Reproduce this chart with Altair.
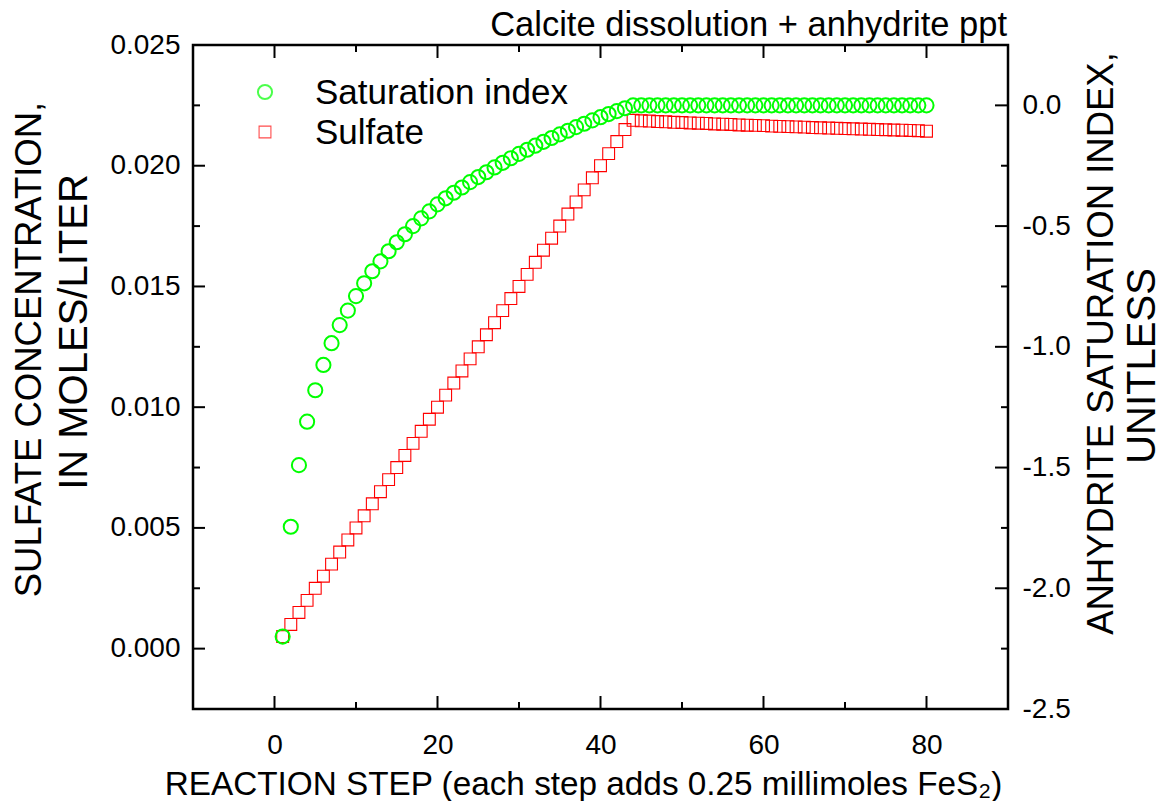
import altair as alt
import pandas as pd

steps = list(range(1, 81))

sulfate = [
    0.0005, 0.0010, 0.0015, 0.0020, 0.0025, 0.0030, 0.0035, 0.0040, 0.0045, 0.0050,
    0.0055, 0.0060, 0.0065, 0.0070, 0.0075, 0.0080, 0.0085, 0.0090, 0.0095, 0.0100,
    0.0105, 0.0110, 0.0115, 0.0120, 0.0125, 0.0130, 0.0135, 0.0140, 0.0145, 0.0150,
    0.0155, 0.0160, 0.0165, 0.0170, 0.0175, 0.0180, 0.0185, 0.0190, 0.0195, 0.0200,
    0.0205, 0.0210, 0.0215, 0.02188, 0.02186, 0.02185, 0.02183, 0.02182, 0.02180, 0.02179,
    0.02177, 0.02176, 0.02175, 0.02173, 0.02172, 0.02171, 0.02169, 0.02168, 0.02167, 0.02166,
    0.02164, 0.02163, 0.02162, 0.02161, 0.02160, 0.02158, 0.02157, 0.02156, 0.02155, 0.02154,
    0.02153, 0.02152, 0.02151, 0.02150, 0.02149, 0.02148, 0.02147, 0.02146, 0.02145, 0.02143,
]

sat_index = [
    -2.20, -1.745, -1.49, -1.31, -1.18, -1.075, -0.985, -0.91, -0.85, -0.79,
    -0.737, -0.687, -0.646, -0.604, -0.567, -0.534, -0.50, -0.468, -0.439, -0.41,
    -0.385, -0.362, -0.340, -0.318, -0.297, -0.277, -0.257, -0.238, -0.219, -0.201,
    -0.184, -0.167, -0.151, -0.135, -0.120, -0.105, -0.090, -0.076, -0.062, -0.049,
    -0.036, -0.024, -0.012, 0.0, 0.0, 0.0, 0.0, 0.0, 0.0, 0.0,
    0.0, 0.0, 0.0, 0.0, 0.0, 0.0, 0.0, 0.0, 0.0, 0.0,
    0.0, 0.0, 0.0, 0.0, 0.0, 0.0, 0.0, 0.0, 0.0, 0.0,
    0.0, 0.0, 0.0, 0.0, 0.0, 0.0, 0.0, 0.0, 0.0, 0.0,
]

x_major = [0, 20, 40, 60, 80]
x_minor = [10, 30, 50, 70]
left_major = [0.0, 0.005, 0.010, 0.015, 0.020, 0.025]
left_minor = [0.0025, 0.0075, 0.0125, 0.0175, 0.0225]
right_major = [0.0, -0.5, -1.0, -1.5, -2.0, -2.5]
right_minor = [-0.25, -0.75, -1.25, -1.75, -2.25]

FONT = "Liberation Sans"
W, H = 815, 664

df = pd.DataFrame({"step": steps, "sulfate": sulfate, "si": sat_index})

xs = alt.Scale(domain=[-10, 90], nice=False, zero=False)
ys = alt.Scale(domain=[-0.0025, 0.025], nice=False, zero=False)
ss = alt.Scale(domain=[-2.5, 0.25], nice=False, zero=False)

squares = alt.Chart(df).mark_point(
    shape="square", filled=False, color="#FF0000", size=140, strokeWidth=1.1, opacity=1
).encode(
    x=alt.X("step:Q", scale=xs, axis=alt.Axis(
        values=x_major, ticks=False, domain=False, grid=False,
        labelFontSize=28, labelFont=FONT, labelColor="black", labelPadding=22,
        title="REACTION STEP (each step adds 0.25 millimoles FeS₂)",
        titleFont=FONT, titleFontSize=33.3, titleFontWeight="normal", titleColor="black",
        titleX=390, titleY=75, titleBaseline="middle", titleAlign="center")),
    y=alt.Y("sulfate:Q", scale=ys, axis=alt.Axis(
        values=left_major, format=".3f", ticks=False, domain=False, grid=False,
        labelFontSize=28, labelFont=FONT, labelColor="black", labelPadding=13,
        title="SULFATE CONCENTRATION,",
        titleFont=FONT, titleFontSize=36.5, titleFontWeight="normal", titleColor="black",
        titleAngle=270, titleBaseline="top", titleAlign="center",
        titleX=-182, titleY=304)),
)

circles = alt.Chart(df).mark_point(
    shape="circle", filled=False, color="#00FF00", size=200, strokeWidth=2, opacity=1
).encode(
    x=alt.X("step:Q", scale=xs),
    y=alt.Y("si:Q", scale=ss, axis=alt.Axis(
        orient="right", values=right_major, ticks=False, domain=False, grid=False,
        labelExpr="replace(format(datum.value, '.1f'), '\u2212', '-')",
        labelFontSize=28, labelFont=FONT, labelColor="black", labelPadding=14,
        title="ANHYDRITE SATURATION INDEX,",
        titleFont=FONT, titleFontSize=36.5, titleFontWeight="normal", titleColor="black",
        titleAngle=270, titleBaseline="top", titleAlign="center",
        titleX=75, titleY=298)),
)


def xticks(vals, y0, y1):
    return alt.Chart(pd.DataFrame({"v": vals})).mark_rule(color="black", strokeWidth=2).encode(
        x=alt.X("v:Q", scale=xs), y=alt.value(y0), y2=alt.value(y1))


def yticks(vals, scale, x0, x1):
    return alt.Chart(pd.DataFrame({"v": vals})).mark_rule(color="black", strokeWidth=2).encode(
        y=alt.Y("v:Q", scale=scale, axis=None), x=alt.value(x0), x2=alt.value(x1))


ticks = [
    xticks(x_major, H, H - 13), xticks(x_minor, H, H - 7),
    xticks(x_major, 0, 13), xticks(x_minor, 0, 7),
    yticks(left_major, ys, 0, 12), yticks(left_minor, ys, 0, 7),
    yticks(right_major, ss, W, W - 13), yticks(right_minor, ss, W, W - 7),
]

one = pd.DataFrame({"a": [0]})
leg_circle = alt.Chart(one).mark_point(
    shape="circle", filled=False, color="#00FF00", size=200, strokeWidth=2
).encode(x=alt.value(72), y=alt.value(47))
leg_square = alt.Chart(one).mark_point(
    shape="square", filled=False, color="#FF0000", size=140, strokeWidth=1.1
).encode(x=alt.value(72), y=alt.value(87))
leg_t1 = alt.Chart(one).mark_text(
    text="Saturation index", font=FONT, fontSize=35, align="left", baseline="middle", color="black"
).encode(x=alt.value(122), y=alt.value(48))
leg_t2 = alt.Chart(one).mark_text(
    text="Sulfate", font=FONT, fontSize=35, align="left", baseline="middle", color="black"
).encode(x=alt.value(122), y=alt.value(88))
title_t = alt.Chart(one).mark_text(
    text="Calcite dissolution + anhydrite ppt", font=FONT, fontSize=34.5,
    align="right", baseline="alphabetic", color="black"
).encode(x=alt.value(W - 1), y=alt.value(-9))
moles_t = alt.Chart(one).mark_text(
    text="IN MOLES/LITER", font=FONT, fontSize=40, angle=270,
    align="center", baseline="top", color="black"
).encode(x=alt.value(-138), y=alt.value(287))
unitless_t = alt.Chart(one).mark_text(
    text="UNITLESS", font=FONT, fontSize=40, angle=270,
    align="center", baseline="top", color="black"
).encode(x=alt.value(W + 115), y=alt.value(321))

chart = alt.layer(
    squares, circles, *ticks, leg_circle, leg_square, leg_t1, leg_t2,
    title_t, moles_t, unitless_t
).resolve_scale(y="independent").properties(
    width=W, height=H,
    padding={"left": 185, "top": 37, "right": 152, "bottom": 92},
    autosize=alt.AutoSizeParams(type="none"),
).configure_view(stroke="black", strokeWidth=2.5)

chart.save("out.html", embed_options={"renderer": "svg", "actions": False})
